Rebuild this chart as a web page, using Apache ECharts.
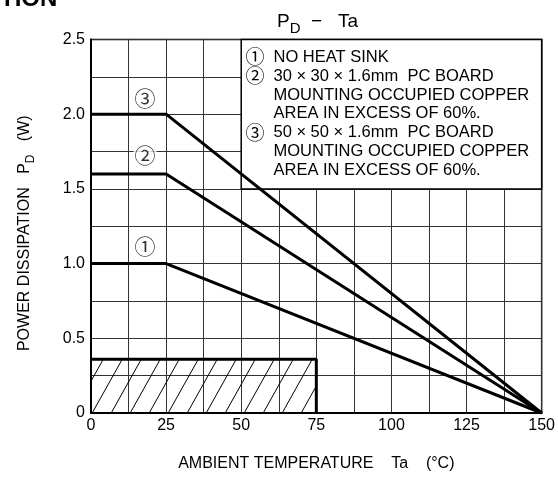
<!DOCTYPE html>
<html><head><meta charset="utf-8">
<script src="https://cdn.jsdelivr.net/npm/echarts@6/dist/echarts.min.js"></script>
<style>html,body{margin:0;padding:0;background:#fff}#c{width:558px;height:477px}</style>
</head><body><div id="c"></div>
<script>
// ---- data ----
const xTicks = [0, 25, 50, 75, 100, 125, 150];
const yTicks = [0, 0.5, 1.0, 1.5, 2.0, 2.5];
const curve1 = [[0, 1.0], [25, 1.0], [150, 0]];   // no heat sink
const curve2 = [[0, 1.6], [25, 1.6], [150, 0]];   // 30x30 board
const curve3 = [[0, 2.0], [25, 2.0], [150, 0]];   // 50x50 board
const hatchArea = [[0, 0.36], [75, 0.36], [75, 0]];
const curveLabels = [['①', 18, 1.12], ['②', 18, 1.73], ['③', 18, 2.11]];
const legendBox = [[50, 2.5], [150, 1.5]];
const legendLines = [
  ['①', 'NO HEAT SINK'],
  ['②', '30 × 30 × 1.6mm  PC BOARD'],
  [' ', 'MOUNTING OCCUPIED COPPER'],
  [' ', 'AREA IN EXCESS OF 60%.'],
  ['③', '50 × 50 × 1.6mm  PC BOARD'],
  [' ', 'MOUNTING OCCUPIED COPPER'],
  [' ', 'AREA IN EXCESS OF 60%.']
];

const FONT = '"Liberation Sans", Arial, sans-serif';
const CIRC = '"Noto Sans CJK JP", "DejaVu Sans", sans-serif';

function hatchPattern() {
  const w = 19, h = 34;
  const c = document.createElement('canvas');
  c.width = w; c.height = h;
  const g = c.getContext('2d');
  g.strokeStyle = '#000'; g.lineWidth = 1;
  g.beginPath();
  for (const dx of [-w, 0, w]) { g.moveTo(dx, h); g.lineTo(dx + w, 0); }
  g.stroke();
  return c;
}

const chart = echarts.init(document.getElementById('c'), null, {renderer: 'canvas'});
const gridLine = {show: true, lineStyle: {color: '#333', width: 1}};
const curveStyle = {color: '#000', width: 3};

const option = {
  animation: false,
  backgroundColor: '#fff',
  title: {
    text: '{p|P}{d|D}{s|  −   Ta}',
    left: 272,
    top: 7,
    textStyle: {
      fontWeight: 'normal',
      rich: {
        p: {fontSize: 19, fontFamily: FONT, fontWeight: 'normal', color: '#000', verticalAlign: 'top', lineHeight: 24},
        d: {fontSize: 15, fontFamily: FONT, fontWeight: 'normal', color: '#000', verticalAlign: 'bottom', lineHeight: 24},
        s: {fontSize: 19, fontFamily: FONT, fontWeight: 'normal', color: '#000', verticalAlign: 'top', lineHeight: 24}
      }
    }
  },
  graphic: [{
    type: 'text', left: 0, top: -13,
    style: {text: 'TION', font: 'bold 24px ' + FONT, fill: '#000'}
  }],
  grid: {left: 91, right: 15, top: 39.5, bottom: 62, show: true, borderColor: '#000', borderWidth: 1.5},
  xAxis: {
    type: 'value', min: xTicks[0], max: xTicks[xTicks.length - 1], interval: 25,
    axisLine: {show: true, lineStyle: {color: '#000', width: 2}},
    axisTick: {show: false},
    axisLabel: {color: '#000', fontSize: 16, fontFamily: FONT, margin: 5,
      formatter: v => xTicks.includes(v) ? String(v) : ''},
    splitLine: gridLine,
    minorTick: {show: false, splitNumber: 2},
    minorSplitLine: gridLine,
    name: 'AMBIENT TEMPERATURE    Ta    (°C)',
    nameLocation: 'middle', nameGap: 43,
    nameTextStyle: {color: '#000', fontSize: 16, fontFamily: FONT}
  },
  yAxis: {
    type: 'value', min: yTicks[0], max: yTicks[yTicks.length - 1], interval: 0.5,
    axisLine: {show: true, lineStyle: {color: '#000', width: 2}},
    axisTick: {show: false},
    axisLabel: {color: '#000', fontSize: 16, fontFamily: FONT, margin: 6,
      formatter: v => v === 0 ? '0' : v.toFixed(1)},
    splitLine: gridLine,
    minorTick: {show: false, splitNumber: 2},
    minorSplitLine: gridLine,
    name: '{a|POWER DISSIPATION   P}{b|D}{a|   (W)}',
    nameLocation: 'middle', nameGap: 54,
    nameTextStyle: {
      padding: [0, 14, 0, 0],
      rich: {
        a: {fontSize: 16, fontFamily: FONT, color: '#000', verticalAlign: 'top', lineHeight: 20},
        b: {fontSize: 12, fontFamily: FONT, color: '#000', verticalAlign: 'bottom', lineHeight: 20}
      }
    }
  },
  series: [
    {
      type: 'line', z: 1, data: [], silent: true,
      markArea: {
        silent: true,
        itemStyle: {color: '#fff', borderColor: '#000', borderWidth: 1.5},
        label: {
          show: true, position: 'insideTopLeft', distance: 0, padding: [9, 0, 0, 5],
          formatter: legendLines.map(l => '{c|' + l[0] + '}{t|' + l[1] + '}').join('\n'),
          rich: {
            c: {fontSize: 19, fontFamily: CIRC, color: '#000', width: 28, lineHeight: 18.9},
            t: {fontSize: 16.5, fontFamily: FONT, color: '#000', lineHeight: 18.9}
          }
        },
        data: [[{coord: legendBox[0]}, {coord: legendBox[1]}]]
      }
    },
    {
      type: 'line', z: 2, data: hatchArea, showSymbol: false, silent: true,
      lineStyle: curveStyle,
      areaStyle: {color: {image: hatchPattern(), repeat: 'repeat'}, opacity: 1}
    },
    {type: 'line', z: 3, data: curve1, showSymbol: false, silent: true, lineStyle: curveStyle},
    {type: 'line', z: 3, data: curve2, showSymbol: false, silent: true, lineStyle: curveStyle},
    {type: 'line', z: 3, data: curve3, showSymbol: false, silent: true, lineStyle: curveStyle},
    {
      type: 'scatter', z: 4, symbolSize: 1, silent: true,
      itemStyle: {color: 'rgba(0,0,0,0)'},
      data: curveLabels.map(d => ({name: d[0], value: [d[1], d[2]]})),
      label: {show: true, position: 'inside', formatter: p => p.name,
        fontSize: 21, fontFamily: CIRC, color: '#000', backgroundColor: '#fff', padding: [0, 1]}
    }
  ]
};
chart.setOption(option);
</script></body></html>
